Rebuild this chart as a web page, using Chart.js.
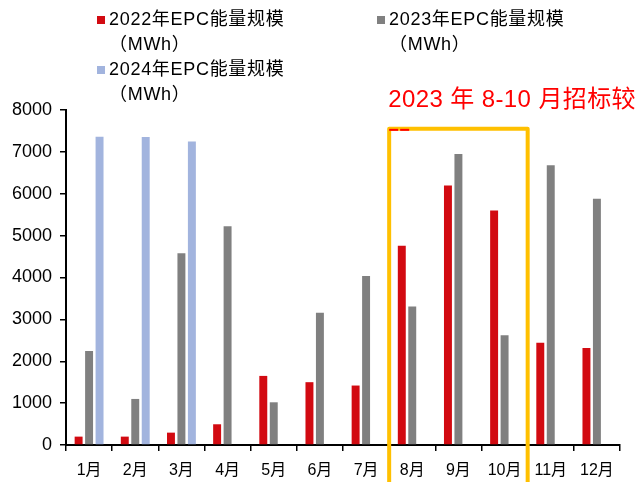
<!DOCTYPE html>
<html>
<head>
<meta charset="utf-8">
<script src="https://cdn.jsdelivr.net/npm/chart.js@4.4.1/dist/chart.umd.min.js"></script>
<style>
  html, body { margin: 0; padding: 0; background: #fff; }
  #wrap { width: 640px; height: 482px; position: relative; }
</style>
</head>
<body>
<div id="wrap"><canvas id="chartBar"></canvas></div>
<script>
const months = ["1月", "2月", "3月", "4月", "5月", "6月", "7月", "8月", "9月", "10月", "11月", "12月"];
const epc2022 = [200, 200, 295, 495, 1650, 1500, 1420, 4760, 6200, 5600, 2440, 2315];
const epc2023 = [2245, 1100, 4580, 5225, 1020, 3160, 4035, 3310, 6950, 2620, 6680, 5880];
const epc2024 = [7360, 7355, 7245, null, null, null, null, null, null, null, null, null];
const seriesLabels = ["2022年EPC能量规模", "2023年EPC能量规模", "2024年EPC能量规模"];
const yTicks = [0, 1000, 2000, 3000, 4000, 5000, 6000, 7000, 8000];
const noteText = "2023 年 8-10 月招标较";

const FONT = "'Liberation Sans', 'Noto Sans CJK SC', sans-serif";

// legend drawn by hand, labels wrap onto a second line like the original
const legendPlugin = {
    id: "wrapLegend",
    afterDraw(chart) {
        const ctx = chart.ctx;
        const spots = [[97, 20], [377, 20], [97, 70]];
        ctx.save();
        ctx.font = "18px " + FONT;
        ctx.letterSpacing = "0.7px";
        ctx.textBaseline = "middle";
        chart.data.datasets.forEach((ds, i) => {
            const [x, y] = spots[i];
            ctx.fillStyle = ds.backgroundColor;
            ctx.fillRect(x, y - 4, 8, 8);
            ctx.fillStyle = "#000";
            ctx.fillText(ds.label, x + 12, y);
            ctx.fillText("（MWh）", x + 12, y + 25);
        });
        ctx.restore();
    },
};

// yellow frame around Aug-Oct plus red note
const boxPlugin = {
    id: "augOctBox",
    afterDraw(chart) {
        const ctx = chart.ctx;
        const xs = chart.scales.x;
        const ys = chart.scales.y;
        const left = (xs.getPixelForValue(6) + xs.getPixelForValue(7)) / 2;
        const right = (xs.getPixelForValue(9) + xs.getPixelForValue(10)) / 2;
        const top = ys.getPixelForValue(7550);
        const bottom = chart.height + 5;
        ctx.save();
        ctx.strokeStyle = "#FFC000";
        ctx.lineWidth = 4;
        ctx.lineJoin = "round";
        ctx.beginPath();
        ctx.moveTo(left, bottom);
        ctx.lineTo(left, top);
        ctx.lineTo(right, top);
        ctx.lineTo(right, bottom);
        ctx.stroke();
        ctx.fillStyle = "#FF0000";
        ctx.fillRect(left, top, 9, 2);
        ctx.fillRect(left + 11, top, 9, 2);
        ctx.font = "24px " + FONT;
        ctx.letterSpacing = "0.4px";
        ctx.textBaseline = "middle";
        ctx.fillText(noteText, left - 1, top - 28);
        ctx.restore();
    },
};

document.addEventListener("DOMContentLoaded", function () {
    const data = {
        labels: months,
        datasets: [
            { label: seriesLabels[0], data: epc2022, backgroundColor: "#D20A11" },
            { label: seriesLabels[1], data: epc2023, backgroundColor: "#808080" },
            { label: seriesLabels[2], data: epc2024, backgroundColor: "#A2B4DE" },
        ],
    };

    const config = {
        type: "bar",
        data: data,
        options: {
            responsive: true,
            maintainAspectRatio: false,
            animation: false,
            datasets: {
                bar: {
                    categoryPercentage: 0.68,
                    barPercentage: 0.76,
                    borderWidth: 0,
                },
            },
            layout: {
                padding: { top: 110, right: 20, left: 0, bottom: 0 },
            },
            plugins: {
                legend: { display: false },
                tooltip: { enabled: false },
            },
            scales: {
                x: {
                    afterFit(scale) { scale.height = 37; },
                    grid: {
                        drawOnChartArea: false,
                        tickLength: 6,
                        color: "#000",
                        lineWidth: 1.5,
                    },
                    border: { color: "#000", width: 2 },
                    ticks: {
                        color: "#000",
                        padding: 10,
                        maxRotation: 0,
                        font: { family: FONT, size: 16 },
                    },
                },
                y: {
                    min: 0,
                    max: 8000,
                    afterFit(scale) { scale.width = 66; },
                    afterBuildTicks(scale) {
                        scale.ticks = yTicks.map((v) => ({ value: v }));
                    },
                    grid: {
                        drawOnChartArea: false,
                        tickLength: 6,
                        color: "#000",
                        lineWidth: 1.5,
                    },
                    border: { color: "#000", width: 2 },
                    ticks: {
                        color: "#000",
                        padding: 8,
                        font: { family: FONT, size: 18 },
                        callback: (v) => String(v),
                    },
                },
            },
        },
        plugins: [legendPlugin, boxPlugin],
    };

    new Chart(document.getElementById("chartBar"), config);
});
</script>
</body>
</html>
